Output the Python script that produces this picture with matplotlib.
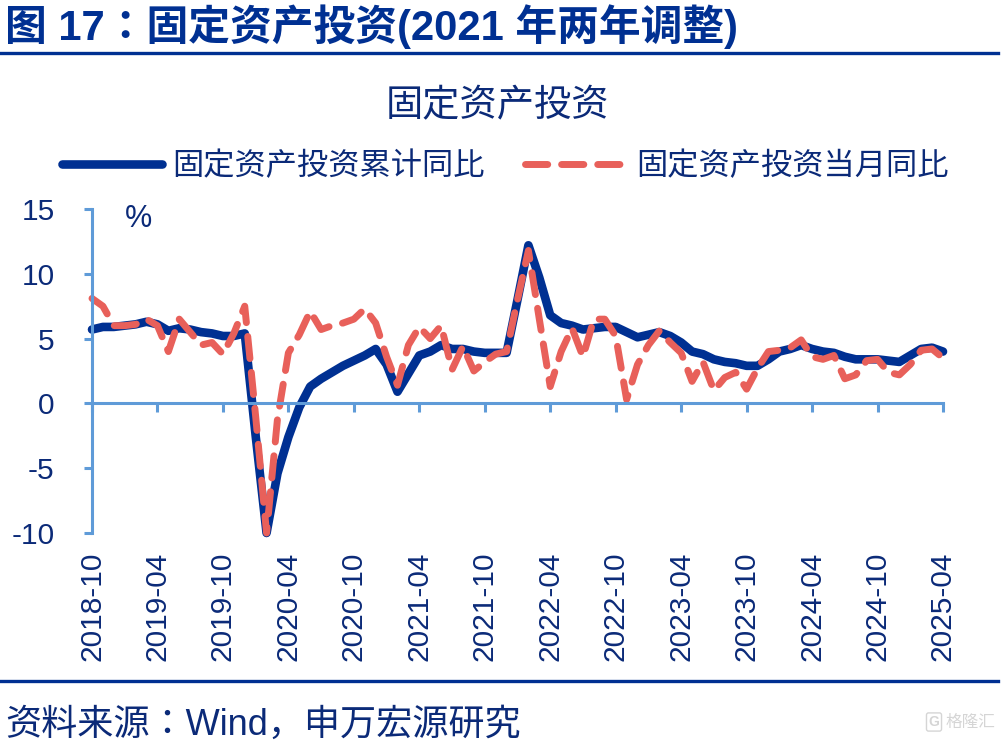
"""
Fixed asset investment chart, cumulative and monthly year on year
"""
import numpy as np
import matplotlib
matplotlib.use("Agg")
import matplotlib.pyplot as plt

# only the JP name of the CJK collection is registered by matplotlib here
plt.rcParams["font.family"] = ["Liberation Sans", "Noto Sans CJK JP"]
plt.rcParams["axes.unicode_minus"] = False

NAVY = "#003092"
TEXT = "#0B2A78"
RED = "#E8605A"
AXIS = "#5F9BD8"
MARK = "#D5D5D5"

header = "图 17：固定资产投资(2021 年两年调整)"
chart_title = "固定资产投资"
footer = "资料来源：Wind，申万宏源研究"
watermark = "格隆汇"
series_names = ["固定资产投资累计同比", "固定资产投资当月同比"]

tick_labels = ["2018-10", "2019-04", "2019-10", "2020-04", "2020-10", "2021-04",
               "2021-10", "2022-04", "2022-10", "2023-04", "2023-10", "2024-04",
               "2024-10", "2025-04"]
y_ticks = [-10, -5, 0, 5, 10, 15]

# monthly values from 2018-10 to 2025-04
cumulative = [5.7, 5.9, 5.9, 6.0, 6.1, 6.3, 6.1, 5.6, 5.8, 5.7,
              5.5, 5.4, 5.2, 5.2, 5.4, -2.5, -10.0, -5.4, -2.6, -0.3,
              1.3, 1.9, 2.4, 2.9, 3.3, 3.7, 4.2, 3.0, 0.9, 2.3,
              3.7, 4.0, 4.5, 4.2, 4.2, 4.0, 3.9, 3.9, 3.9, 8.0,
              12.2, 9.7, 6.8, 6.2, 6.0, 5.7, 5.8, 5.9, 5.9, 5.5,
              5.1, 5.3, 5.5, 5.2, 4.7, 4.0, 3.8, 3.4, 3.2, 3.1,
              2.9, 2.9, 3.4, 4.0, 4.2, 4.5, 4.2, 4.0, 3.9, 3.6,
              3.4, 3.4, 3.4, 3.3, 3.2, 3.7, 4.2, 4.3, 4.0]
monthly = [8.1, 7.5, 6.0, 6.0, 6.1, 6.5, 6.0, 4.0, 6.5, 5.5,
           4.5, 4.7, 3.8, 5.4, 7.5, -1.0, -10.0, -1.2, 3.9, 5.3,
           7.1, 5.7, 6.0, 6.2, 6.5, 7.3, 6.2, 3.6, 1.4, 4.5,
           5.9, 5.0, 6.0, 2.6, 4.4, 2.5, 3.2, 3.8, 4.0, 8.0,
           11.8, 6.5, 1.3, 4.0, 5.8, 3.6, 6.5, 6.5, 5.2, 0.3,
           3.0, 4.5, 5.6, 4.7, 3.9, 1.7, 3.2, 1.0, 2.0, 2.4,
           1.1, 2.7, 4.0, 4.1, 4.3, 4.9, 3.6, 3.4, 3.7, 1.9,
           2.2, 3.3, 3.4, 2.4, 2.2, 3.0, 4.1, 4.2, 3.5]


def px_box(left, top, right, bottom):
    """Figure fraction box from pixel edges."""
    return [left / 1002, 1 - bottom / 742, (right - left) / 1002, (bottom - top) / 742]


def main():
    fig = plt.figure(figsize=(10.02, 7.42), dpi=100)
    ax = fig.add_axes(px_box(92, 209, 943, 533))

    # moving a spine resets the ticks, so this has to come before they are set
    for side in ["top", "right"]:
        ax.spines[side].set_visible(False)
    ax.spines["bottom"].set_position(("data", 0))
    for side in ["left", "bottom"]:
        ax.spines[side].set_color(AXIS)
        ax.spines[side].set_linewidth(2.2)

    x = np.arange(len(cumulative))
    line1, = ax.plot(x, cumulative, color=NAVY, lw=6.2, solid_joinstyle="round",
                     solid_capstyle="round", clip_on=False)
    line2, = ax.plot(x, monthly, color=RED, lw=5.0, dash_capstyle="round",
                     dash_joinstyle="round", dashes=(3.2, 2.0), clip_on=False)

    ax.set_xlim(0, len(cumulative) - 1)
    ax.set_ylim(-10, 15)
    ax.set_xticks(x[::6], tick_labels, rotation=90)
    ax.set_yticks(y_ticks)

    ax.tick_params(axis="x", direction="out", length=6.5, width=2.2, color=AXIS,
                   labelsize=21.5, labelcolor=TEXT, pad=100)
    ax.tick_params(axis="y", direction="out", length=6, width=2.2, color=AXIS,
                   labelsize=21.5, labelcolor=TEXT, pad=21)

    ax.text(0.055, 0.97, "%", transform=ax.transAxes, fontsize=22, color=TEXT,
            ha="center", va="center")

    fig.legend([line1, line2], series_names, loc="center", ncol=2,
               bbox_to_anchor=(505 / 1002, 1 - 167 / 742), frameon=False,
               fontsize=22.5, labelcolor=TEXT, handlelength=3.2, handletextpad=0.35,
               columnspacing=1.28, borderpad=0)

    fig.text(497 / 1002, 1 - 107 / 742, chart_title, fontsize=26.8, color=TEXT,
             ha="center", va="center")
    fig.text(5 / 1002, 1 - 27 / 742, header, fontsize=30.1, fontweight="bold", color=NAVY,
             ha="left", va="center")
    fig.text(5 / 1002, 1 - 725 / 742, footer, fontsize=26, color=TEXT,
             ha="left", va="center")

    # watermark, bottom right
    fig.text(970 / 1002, 1 - 722 / 742, watermark, fontsize=12, color=MARK,
             ha="center", va="center")
    fig.text(934 / 1002, 1 - 722 / 742, "G", fontsize=10, fontweight="bold", color=MARK,
             ha="center", va="center",
             bbox=dict(boxstyle="round,pad=0.15", fc="none", ec=MARK, lw=1))

    # header and footer rules
    for y_px in [53, 681]:
        fig.add_artist(plt.Line2D([0, 998 / 1002], [1 - y_px / 742] * 2, color=NAVY,
                                  lw=2.4))

    fig.savefig("out.png", dpi=100)


if __name__ == "__main__":
    main()
